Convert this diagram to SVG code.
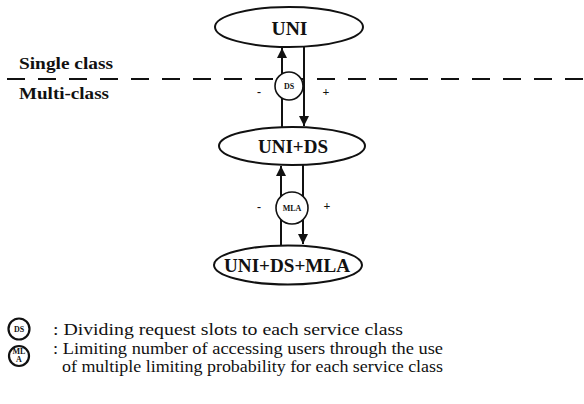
<svg xmlns="http://www.w3.org/2000/svg" width="584" height="404" viewBox="0 0 584 404">
<defs>
<style>
.ell{fill:#fff;stroke:#111;stroke-width:2}
.circ{fill:#fff;stroke:#111;stroke-width:1.6}
.lcirc{fill:#fff;stroke:#111;stroke-width:2.2}
.ln{stroke:#111;stroke-width:2;fill:none}
text{font-family:'Liberation Serif','Times New Roman',serif;fill:#111}
.nt{font-weight:bold;font-size:19px;text-anchor:middle}
.lab{font-weight:bold;font-size:17px}
.sm{font-weight:bold;font-size:8px;text-anchor:middle}
.sign{font-weight:bold;font-size:12px;text-anchor:middle}
.leg{font-size:16px}
</style>
<marker id="ah" viewBox="0 0 10 10" refX="10" refY="5" markerWidth="5" markerHeight="5" orient="auto" markerUnits="strokeWidth">
<path d="M0,0 L10,5 L0,10 Z" fill="#111"/>
</marker>
</defs>
<rect width="584" height="404" fill="#fff"/>
<g id="divider">
<line x1="7" y1="79" x2="584" y2="79" stroke="#111" stroke-width="2.2" stroke-dasharray="18 13"/>
<text class="lab" x="19" y="69" textLength="94" lengthAdjust="spacingAndGlyphs">Single class</text>
<text class="lab" x="19" y="99" textLength="90" lengthAdjust="spacingAndGlyphs">Multi-class</text>
</g>
<g id="connectors">
<line class="ln" x1="282" y1="127" x2="282" y2="48" marker-end="url(#ah)"/>
<line class="ln" x1="304" y1="47" x2="304" y2="126" marker-end="url(#ah)"/>
<line class="ln" x1="281" y1="245" x2="281" y2="166" marker-end="url(#ah)"/>
<line class="ln" x1="303" y1="165" x2="303" y2="244" marker-end="url(#ah)"/>
</g>
<g id="ds">
<circle class="circ" cx="289" cy="86" r="14"/>
<text class="sm" x="289" y="89">DS</text>
<text class="sign" x="259" y="96">-</text>
<text class="sign" x="326" y="96">+</text>
</g>
<g id="mla">
<circle class="circ" cx="292" cy="208" r="16"/>
<text class="sm" x="292" y="211">MLA</text>
<text class="sign" x="259" y="211">-</text>
<text class="sign" x="327" y="210">+</text>
</g>
<g id="uni">
<ellipse class="ell" cx="289" cy="27" rx="74" ry="20"/>
<text class="nt" x="289.5" y="35" textLength="36" lengthAdjust="spacingAndGlyphs">UNI</text>
</g>
<g id="uni-ds">
<ellipse class="ell" cx="292" cy="146" rx="73" ry="19"/>
<text class="nt" x="293" y="153" textLength="70" lengthAdjust="spacingAndGlyphs">UNI+DS</text>
</g>
<g id="uni-ds-mla">
<ellipse class="ell" cx="288" cy="265" rx="74" ry="19.5"/>
<text class="nt" x="287" y="272" textLength="126" lengthAdjust="spacingAndGlyphs">UNI+DS+MLA</text>
</g>
<g id="legend">
<circle class="lcirc" cx="19" cy="329" r="10.5"/>
<text class="sm" x="19" y="332" font-size="9">DS</text>
<circle class="lcirc" cx="19" cy="356" r="10"/>
<text class="sm" x="19" y="354" font-size="7">ML</text>
<text class="sm" x="19" y="362" font-size="7">A</text>
<text class="leg" x="53" y="335" textLength="350" lengthAdjust="spacingAndGlyphs">: Dividing request slots to each service class</text>
<text class="leg" x="53" y="354" textLength="390" lengthAdjust="spacingAndGlyphs">: Limiting number of accessing users through the use</text>
<text class="leg" x="62" y="372" textLength="381" lengthAdjust="spacingAndGlyphs">of multiple limiting probability for each service class</text>
</g>
</svg>
